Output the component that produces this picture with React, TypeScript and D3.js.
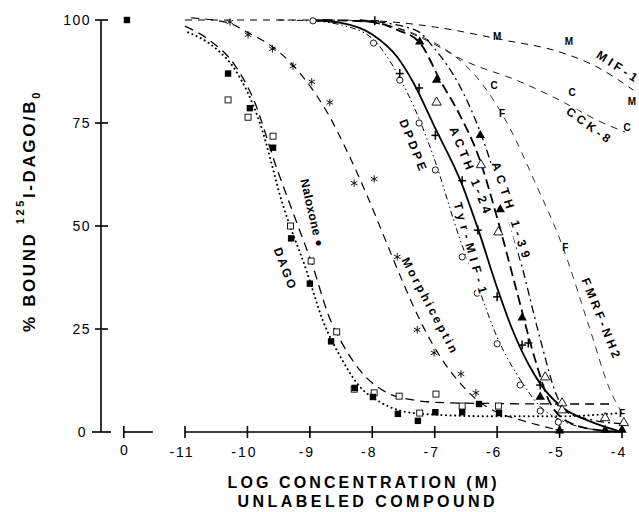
import React from "react";
import * as d3 from "d3";

type P = [number, number];

// ---------- axis data ----------
const X_TICKS = [-11, -10, -9, -8, -7, -6, -5, -4];
const X_TICK_LABELS = ["-11", "-10", "-9", "-8", "-7", "-6", "-5", "-4"];
const ZERO_POS = -11.98; // broken-axis position of the "0" (no competitor) point
const ZERO_LABEL = "0";
const Y_TICKS = [0, 25, 50, 75, 100];
const Y_TICK_LABELS = ["0", "25", "50", "75", "100"];

// ---------- marker data (log M, % bound) ----------
const controlPts: P[] = [[-11.93, 100]];
const naloxonePts: P[] = [
  [-10.31, 87], [-9.96, 78.6], [-9.59, 69], [-9.3, 47], [-9.0, 36], [-8.66, 22],
  [-8.28, 10.7], [-7.99, 8.5], [-7.59, 4.4], [-7.27, 2.7], [-6.99, 4.8],
  [-6.56, 4.8], [-6.29, 6.8], [-5.97, 4.6],
];
const dagoPts: P[] = [
  [-10.31, 80.6], [-9.99, 76.4], [-9.59, 71.8], [-9.31, 50], [-8.98, 41.5],
  [-8.57, 24.3], [-8.29, 10.4], [-7.97, 9.5], [-7.57, 8.7], [-7.24, 4.6],
  [-6.98, 9.2], [-6.56, 6.3], [-5.98, 6.3],
];
const morphiceptinPts: P[] = [
  [-10.28, 99.5], [-9.99, 96.4], [-9.6, 93], [-9.27, 88.8], [-8.97, 85],
  [-8.68, 80], [-8.29, 60.4], [-7.97, 61.4], [-7.6, 42.5], [-7.28, 24.8],
  [-7.01, 19.2], [-6.58, 14.1], [-6.34, 9.5],
];
const dpdpePts: P[] = [
  [-8.95, 99.8], [-7.98, 94.4], [-7.56, 85.4], [-7.25, 75], [-6.99, 63.6],
  [-6.56, 42.5], [-6.32, 33.7], [-6.0, 21.4], [-5.63, 11.4], [-5.31, 5.1], [-5.02, 2.4],
];
const tyrMifPts: P[] = [
  [-7.96, 99.8], [-7.56, 87], [-7.25, 83.5], [-6.99, 72], [-6.56, 61],
  [-6.31, 49], [-6.0, 32.8], [-5.6, 21.1], [-5.5, 21.6], [-5.31, 11.4], [-5.0, 0.5],
];
const acth124Pts: P[] = [
  [-7.24, 94.7], [-6.97, 85.4], [-6.27, 72], [-5.95, 54], [-5.6, 27.7],
  [-5.31, 8.5], [-5.0, 0.3], [-4.27, 0.5], [-4.0, 0.5],
];
const acth139Pts: P[] = [
  [-6.97, 80], [-6.26, 64.8], [-5.98, 48.5], [-5.23, 13.3], [-4.96, 7],
  [-4.96, 5.3], [-4.27, 3.4], [-3.97, 2.2],
];
const mifPts: P[] = [[-6.0, 95.9], [-4.85, 94.9], [-3.84, 80.3]];
const cckPts: P[] = [[-6.05, 84.2], [-4.8, 82.3], [-3.92, 74]];
const fmrfPts: P[] = [[-5.92, 77.4], [-4.91, 44.7], [-4.0, 4.6]];

// ---------- fitted curves (log M, % bound) ----------
const naloxoneCurve: P[] = [
  [-10.95, 97], [-10.5, 93], [-10.2, 88], [-9.8, 75], [-9.43, 55], [-9.05, 39],
  [-8.79, 27], [-8.5, 18], [-8.2, 11], [-7.9, 7.5], [-7.5, 5], [-7, 4.2],
  [-6, 3.8], [-5, 3.8], [-4.05, 4.6],
];
const dagoCurve: P[] = [
  [-11, 98.5], [-10.6, 95], [-10.2, 89], [-9.91, 81], [-9.53, 64], [-9.19, 50],
  [-8.97, 41], [-8.68, 27.5], [-8.5, 22], [-8.2, 15], [-7.76, 9.5], [-7.35, 7.8],
  [-7, 7.2], [-6, 6.9], [-5, 6.8], [-4.15, 6.8],
];
const morphiceptinCurve: P[] = [
  [-10.9, 100.5], [-10.3, 99.3], [-10, 97], [-9.6, 93.5], [-9.3, 89.5], [-9, 84],
  [-8.7, 77], [-8.4, 68], [-8.1, 58], [-7.8, 47], [-7.5, 36], [-7.2, 26],
  [-6.9, 18], [-6.6, 12], [-6.3, 7.5], [-6.0, 4.8], [-5.6, 2.8], [-5.0, 0.4],
];
const dpdpeCurve: P[] = [
  [-9.5, 100], [-9, 99.8], [-8.5, 98.8], [-8, 95.5], [-7.6, 87], [-7.25, 76],
  [-7, 66], [-6.6, 47], [-6.3, 35], [-6, 23], [-5.6, 12], [-5.3, 6], [-5, 3],
  [-4.6, 1], [-4.2, 0.2],
];
const tyrMifCurve: P[] = [
  [-9, 100], [-8.5, 99.3], [-8, 96.5], [-7.6, 91], [-7.35, 85], [-7, 74],
  [-6.56, 60], [-6.3, 49], [-6, 35], [-5.76, 25], [-5.5, 16.5], [-5.3, 11.5],
  [-5, 6.5], [-4.5, 2.5], [-4, 0],
];
const acth124Curve: P[] = [
  [-8.8, 100], [-8, 99.5], [-7.6, 97.6], [-7.24, 94.5], [-6.9, 85], [-6.6, 77],
  [-6.3, 67], [-6.0, 52], [-5.7, 35], [-5.4, 18], [-5.15, 7], [-4.8, 2],
  [-4.3, 0.3], [-4, 0],
];
const acth139Curve: P[] = [
  [-8.2, 100], [-7.3, 97.5], [-7.0, 93], [-6.6, 84], [-6.25, 72], [-5.95, 58],
  [-5.6, 40], [-5.3, 22], [-5.05, 9], [-4.9, 5], [-4.5, 3], [-4, 2],
];
const mifCurve: P[] = [
  [-11, 100], [-9, 100], [-8, 99.8], [-7, 98.3], [-5.85, 95], [-5.1, 92.7],
  [-4.4, 88.6], [-3.82, 83],
];
const cckCurve: P[] = [
  [-8.4, 100], [-7.6, 98], [-7.08, 94.7], [-6.55, 90.3], [-5.63, 85], [-5.1, 81.3],
  [-4.3, 75], [-3.95, 72.8],
];
const fmrfCurve: P[] = [
  [-8.2, 100], [-7.3, 96.5], [-6.7, 91.5], [-6.32, 86], [-5.84, 75], [-5.36, 59.5],
  [-4.99, 46.6], [-4.51, 24.8], [-4.2, 10.5], [-4.0, 4.6],
];

// ---------- curve labels: text, position (log M, %), angle ----------
const LABEL_TEXT = ["Naloxone ●", "DAGO", "Morphiceptin", "DPDPE", "ACTH 1-24", "ACTH 1-39", "Tyr-MIF-1", "FMRF-NH2", "MIF-1", "CCK-8"];
const LABEL_POS: P[] = [
  [-8.966, 53.2], [-9.4, 39.8], [-7.08, 30.8], [-7.35, 69.7], [-6.43, 63.6],
  [-5.78, 53.9], [-6.43, 44.7], [-4.34, 27.7], [-4.08, 88.8], [-4.54, 74.5],
];
const LABEL_ANGLE = [77, 69, 62, 68, 68, 72, 74, 68, 33, 36];
const LABEL_LEN = [69, 43, 106, 54, 92, 100, 94, 85, 46, 51];

const x = d3.scaleLinear().domain([-11, -4]).range([185, 622]);
const y = d3.scaleLinear().domain([0, 100]).range([432, 20]);
const line = d3
  .line<P>()
  .x((d) => x(d[0]))
  .y((d) => y(d[1]))
  .curve(d3.curveMonotoneX);

const FONT = "'Liberation Sans', Arial, Helvetica, sans-serif";
const triPath = d3.symbol().type(d3.symbolTriangle).size(38)() as string;

function Curve({ data, dash, width }: { data: P[]; dash?: string; width: number }) {
  return (
    <path
      d={line(data) as string}
      fill="none"
      stroke="#000"
      strokeWidth={width}
      strokeDasharray={dash}
      strokeLinecap={dash && dash.startsWith("0") ? "round" : "butt"}
    />
  );
}

function Markers({ data, kind }: { data: P[]; kind: string }) {
  return (
    <g>
      {data.map((d, i) => {
        const cx = x(d[0]);
        const cy = y(d[1]);
        const t = `translate(${cx},${cy})`;
        if (kind === "fsq")
          return <rect key={i} x={cx - 3.2} y={cy - 3.2} width={6.4} height={6.4} fill="#000" />;
        if (kind === "osq")
          return <rect key={i} x={cx - 3} y={cy - 3} width={6} height={6} fill="#fff" stroke="#000" strokeWidth={0.9} />;
        if (kind === "oci")
          return <circle key={i} cx={cx} cy={cy} r={3.1} fill="#fff" stroke="#000" strokeWidth={0.9} />;
        if (kind === "star")
          return (
            <g key={i} transform={t} stroke="#000" strokeWidth={0.9}>
              <line x1={0} y1={-3.8} x2={0} y2={3.8} />
              <line x1={-3.3} y1={-1.9} x2={3.3} y2={1.9} />
              <line x1={-3.3} y1={1.9} x2={3.3} y2={-1.9} />
            </g>
          );
        if (kind === "plus")
          return (
            <g key={i} transform={t} stroke="#000" strokeWidth={1.5}>
              <line x1={0} y1={-4.5} x2={0} y2={4.5} />
              <line x1={-4} y1={0} x2={4} y2={0} />
            </g>
          );
        if (kind === "ftri") return <path key={i} d={triPath} transform={t} fill="#000" />;
        if (kind === "otri")
          return <path key={i} d={triPath} transform={t} fill="#fff" stroke="#000" strokeWidth={0.9} />;
        return (
          <text
            key={i}
            x={cx}
            y={cy}
            textAnchor="middle"
            dominantBaseline="central"
            fontFamily={FONT}
            fontWeight="bold"
            fontSize={10}
          >
            {kind}
          </text>
        );
      })}
    </g>
  );
}

export default function App() {
  const axisX = 101;
  const y0 = y(0);
  return (
    <svg
      width={639}
      height={512}
      viewBox="0 0 639 512"
      style={{ position: "absolute", left: 0, top: 0, background: "#fff" }}
    >
      <rect width={639} height={512} fill="#fff" />
      {/* Y axis */}
      <g stroke="#000" strokeWidth={1.6}>
        <line x1={axisX} y1={y(100)} x2={axisX} y2={y0} />
        {Y_TICKS.map((v) =>
          v === 0 ? (
            <line key={v} x1={axisX - 9} y1={y0} x2={axisX + 10} y2={y0} />
          ) : (
            <line key={v} x1={axisX - 6} y1={y(v)} x2={axisX + 7} y2={y(v)} />
          )
        )}
      </g>
      {Y_TICKS.map((v, i) => (
        <text
          key={v}
          x={v === 0 ? 87 : 91}
          y={y(v) + 5}
          textAnchor="end"
          fontFamily={FONT}
          fontSize={14}
          letterSpacing={1.5}
        >
          {Y_TICK_LABELS[i]}
        </text>
      ))}
      {/* X axis */}
      <g stroke="#000" strokeWidth={1.6}>
        <line x1={x(-11)} y1={y0} x2={x(-4)} y2={y0} />
        <line x1={x(ZERO_POS)} y1={y0} x2={x(ZERO_POS) + 29} y2={y0} />
        <line x1={x(ZERO_POS)} y1={y0 - 6} x2={x(ZERO_POS)} y2={y0 + 6} />
        {X_TICKS.map((v) => (
          <line key={v} x1={x(v)} y1={y0 - 6} x2={x(v)} y2={y0 + 6} />
        ))}
      </g>
      <text x={x(ZERO_POS)} y={455} textAnchor="middle" fontFamily={FONT} fontSize={14}>
        {ZERO_LABEL}
      </text>
      {X_TICKS.map((v, i) => (
        <text
          key={v}
          x={x(v) - 3}
          y={457}
          textAnchor="middle"
          fontFamily={FONT}
          fontSize={14}
          letterSpacing={2}
        >
          {X_TICK_LABELS[i]}
        </text>
      ))}

      {/* axis titles */}
      <text
        x={362}
        y={488}
        textAnchor="middle"
        fontFamily={FONT}
        fontWeight="bold"
        fontSize={16}
        textLength={269}
        lengthAdjust="spacing"
      >
        LOG CONCENTRATION (M)
      </text>
      <text
        x={366}
        y={507}
        textAnchor="middle"
        fontFamily={FONT}
        fontWeight="bold"
        fontSize={16}
        textLength={257}
        lengthAdjust="spacing"
      >
        UNLABELED COMPOUND
      </text>
      <g transform="translate(35,211) rotate(-90)">
        <text textAnchor="middle" fontFamily={FONT} fontWeight="bold" fontSize={17} letterSpacing={2.6}>
          <tspan>% BOUND </tspan>
          <tspan fontSize={11} dy={-11}>125</tspan>
          <tspan dy={11}>I-DAGO/B</tspan>
          <tspan fontSize={11} dy={5}>0</tspan>
        </text>
      </g>

      {/* curves */}
      <Curve data={mifCurve} dash="7,6" width={1} />
      <Curve data={cckCurve} dash="7,6" width={0.9} />
      <Curve data={fmrfCurve} dash="7,6" width={0.8} />
      <Curve data={morphiceptinCurve} dash="8,6" width={1.2} />
      <Curve data={naloxoneCurve} dash="0.1,4.5" width={2} />
      <Curve data={dagoCurve} dash="9,6" width={1.3} />
      <Curve data={dpdpeCurve} dash="6,3,1.5,3,1.5,3" width={1} />
      <Curve data={tyrMifCurve} width={1.8} />
      <Curve data={acth124Curve} dash="10,5" width={1.8} />
      <Curve data={acth139Curve} dash="8,4,2,4" width={1.3} />

      {/* markers */}
      <Markers data={controlPts} kind="fsq" />
      <Markers data={dagoPts} kind="osq" />
      <Markers data={naloxonePts} kind="fsq" />
      <Markers data={morphiceptinPts} kind="star" />
      <Markers data={dpdpePts} kind="oci" />
      <Markers data={tyrMifPts} kind="plus" />
      <Markers data={acth139Pts} kind="otri" />
      <Markers data={acth124Pts} kind="ftri" />
      <Markers data={mifPts} kind="M" />
      <Markers data={cckPts} kind="C" />
      <Markers data={fmrfPts} kind="F" />

      {/* curve labels */}
      {LABEL_TEXT.map((t, i) => (
        <g key={t} transform={`translate(${x(LABEL_POS[i][0])},${y(LABEL_POS[i][1])}) rotate(${LABEL_ANGLE[i]})`}>
          <rect x={-LABEL_LEN[i] / 2 - 1} y={-6} width={LABEL_LEN[i] + 2} height={12} fill="#fff" />
          <text
            textAnchor="middle"
            dominantBaseline="central"
            fontFamily={FONT}
            fontWeight="bold"
            fontSize={12}
            textLength={LABEL_LEN[i]}
            lengthAdjust="spacing"
          >
            {t}
          </text>
        </g>
      ))}
    </svg>
  );
}
